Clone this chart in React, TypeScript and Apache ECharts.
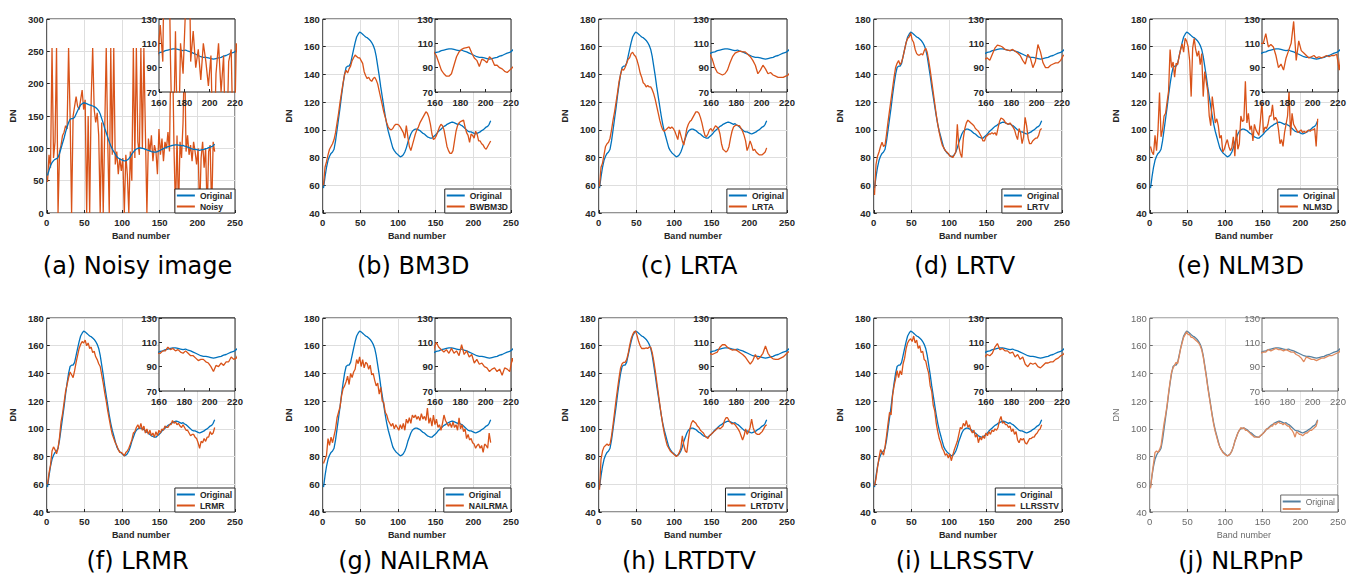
import React, { useEffect, useRef } from 'react';
import * as echarts from 'echarts';

// Band numbers sampled every second band (1, 3, ..., 223)
const bands: number[] = [];
for (let b = 1; b <= 223; b += 2) bands.push(b);

const original = [
  58, 66, 73, 78, 81, 83, 84, 86, 92, 100,
  108, 116, 125, 133, 140, 145, 146, 146, 148, 153,
  158, 163, 167, 169, 170.5, 170, 169, 168, 167, 166.5,
  165.5, 164.5, 163, 161, 158, 153, 146, 139, 131, 124,
  117, 110, 104, 99, 95, 91, 87, 85, 83.5, 82.5,
  81.5, 80.5, 81, 82, 84, 87, 91, 94, 97, 99,
  100, 100.5, 100.5, 100, 99.5, 98.5, 97.5, 97, 96, 95,
  94.5, 94, 94, 95, 96, 97, 98.5, 99.5, 100.5, 101.5,
  102.5, 103, 104, 104.5, 105, 105.5, 105.5, 105, 104.5, 104,
  104.5, 103.5, 103, 102, 101, 100, 99, 98.5, 98.5, 98,
  97.5, 97, 97.5, 98, 98.5, 99.5, 100, 101, 102, 102.5,
  104, 106.5,
];

const noisy = [
  48, 90, 70, 255, 85, 110, 255, 0, 95, 105,
  120, 125, 135, 130, 255, 150, 0, 150, 165, 180,
  165, 160, 175, 190, 160, 175, 0, 150, 0, 175,
  255, 160, 140, 155, 120, 0, 140, 0, 130, 255,
  110, 0, 255, 90, 255, 75, 95, 60, 85, 65,
  85, 0, 90, 60, 0, 95, 50, 255, 85, 255,
  110, 90, 255, 100, 255, 125, 0, 115, 95, 120,
  80, 105, 95, 60, 130, 90, 115, 80, 110, 100,
  125, 95, 255, 255, 100, 0, 120, 0, 110, 85,
  140, 255, 95, 120, 90, 105, 80, 110, 95, 75,
  100, 0, 85, 110, 70, 100, 0, 95, 105, 0,
  110, 95,
];

const bwbm3d = [
  60, 73, 77, 82, 86, 88, 90, 93, 98, 105,
  112, 120, 127, 134, 140, 143, 141, 144, 146, 150,
  152, 154, 153, 152, 152, 150, 148, 142, 139, 137,
  138, 136, 135, 137, 138, 136, 133, 128, 123, 118,
  113, 109, 105, 102, 100.5, 100, 101, 103, 104, 104,
  103.5, 102, 100, 98, 94, 103, 95, 88, 85, 89,
  93, 97, 100, 102, 105, 107, 109, 111, 113, 112,
  109, 104, 97, 93, 94, 96, 99, 102, 104, 103,
  100, 94, 88, 85, 83, 83, 85, 92, 99, 103,
  105, 106, 106.5, 107, 102, 98, 96, 91, 97, 96,
  94, 99, 97, 92, 92, 90, 89, 87, 86, 88,
  90, 92,
];

const lrta = [
  59, 73, 76, 82, 88, 90, 91, 94, 100, 107,
  113, 120, 127, 135, 140, 144, 143, 145, 148, 151,
  152, 155, 156, 154, 153, 150, 146, 141, 138, 134,
  133, 131, 132, 131, 131, 129, 126, 122, 117, 112,
  107, 103, 100, 99, 100, 101, 102, 101, 102, 101,
  99, 96, 93, 100, 96, 92, 89, 95, 101, 104,
  106, 107, 109, 111, 113, 113, 112, 109, 105, 100,
  96, 95, 97, 100, 101, 99, 101, 103, 102, 101,
  97, 90, 86, 85, 84, 85, 88, 94, 99, 102,
  103, 103.5, 103, 103, 101, 99, 96, 92, 85, 88,
  92, 89, 85, 86, 84, 83, 82, 82, 82, 83,
  84, 87,
];

const lrtv = [
  53, 75, 81, 84, 88, 91, 88, 89, 97, 106,
  114, 122, 130, 138, 145, 148, 150, 147, 149, 153,
  158, 163, 166, 167, 170, 165, 163, 158, 155, 154,
  154, 155, 154, 157, 159, 156, 150, 143, 135, 127,
  119, 111, 104, 98, 93, 89, 87, 85, 84, 83,
  81, 81, 80, 82, 84, 104, 88, 83, 80, 94,
  101, 105, 107, 106, 105, 104, 103, 101, 100, 99,
  97, 95, 92, 92, 95, 96, 97, 97, 98, 97,
  98, 96, 101, 106, 108.5, 108, 107, 105, 104.5, 104,
  105, 103.5, 102, 100, 96, 93, 101, 98, 90, 95,
  109, 103, 94, 90, 90, 92, 93, 94, 94, 96,
  100, 101,
];

const nlm3d = [
  88, 84, 82, 96, 85, 100, 127, 95, 100, 110,
  112, 120, 128, 158, 145, 149, 138, 148, 147, 153,
  158, 162, 156, 166, 164, 160, 150, 124, 159, 166,
  158, 153, 157, 147, 155, 124, 142, 135, 128, 110,
  103, 124, 115, 105, 108, 103, 94, 96, 84, 86,
  90, 93, 88, 85, 87, 95, 81, 100, 86, 90,
  110, 106, 107, 135, 105, 112, 100, 103, 92, 104,
  100, 98, 96, 107, 120, 98, 102, 101, 104, 110,
  110, 118, 107, 109, 107, 100, 90, 93, 88, 98,
  104, 110, 128, 96, 112, 104, 102, 100, 98, 99,
  100, 98, 99, 98, 99, 100, 99, 100, 100, 101,
  88, 108,
];

const lrmr = [
  60, 68, 74, 84, 87, 85, 82, 86, 94, 105,
  111, 119, 127, 132, 137, 141, 139, 137, 142, 148,
  153, 158, 161, 163, 162, 164, 160, 162, 158, 159,
  155, 156, 152, 150, 147, 145, 139, 133, 126, 120,
  113, 107, 101, 96, 93, 90, 88, 85, 83, 83,
  82, 80.5, 83, 84, 86, 89, 92, 97, 98, 101,
  103, 100, 104, 99, 102, 97, 100, 96, 99, 95,
  97, 94, 98, 95, 99, 97, 100, 99, 102, 101,
  101, 103, 103, 106, 104, 105, 103, 104, 102, 101,
  103, 101, 99, 99, 97, 95, 96, 96, 94, 93,
  90, 86, 91, 90, 93, 91, 94, 94, 98, 96,
  97, 101,
];

const nailrma = [
  75, 78, 81, 93, 88, 94, 90, 95, 100, 108,
  112, 116, 124, 129, 131, 134, 138, 132, 140, 137,
  141, 143, 150, 147, 152, 145, 150, 144, 148, 147,
  143, 146, 139, 140, 135, 131, 133, 125, 130, 120,
  119, 112, 110, 106, 104, 102, 104, 100, 103, 101,
  99, 103, 100, 104, 99, 107, 104, 108, 104, 110,
  108, 110, 107, 109, 106, 111, 107, 109, 106, 115,
  104, 108, 102, 110, 103, 107, 101, 103, 99, 104,
  110, 106, 104, 102, 104, 101, 105, 101, 103, 99,
  108, 100, 103, 98, 100, 93, 96, 92, 93, 90,
  89, 86, 88, 89, 86, 88, 83, 89, 88, 86,
  97, 90,
];

const lrtdtv = [
  56, 78, 84, 87, 88, 89, 88, 89, 95, 103,
  112, 121, 129, 137, 144, 147, 148, 148, 150, 154,
  160, 165, 168, 170, 170.5, 167, 163, 160, 158, 158,
  158, 158.5, 158, 159, 159, 155, 149, 142, 134, 126,
  118, 110, 103, 97, 92, 88, 86, 84, 83, 82,
  81, 80, 81, 83, 86, 95, 88, 84, 83, 92,
  100, 104, 106, 105, 104, 102, 101, 99, 98, 97,
  95, 94, 93, 95, 96, 97, 98, 99, 100, 101,
  100, 101, 102, 106, 108, 108, 106, 104.5, 103.5, 104,
  103, 101.5, 100, 98, 95, 92, 95, 100, 96, 98,
  101, 107, 101, 98, 96.5, 96, 96, 97, 98, 100,
  102, 103,
];

const llrsstv = [
  59, 64, 72, 79, 85, 83, 81, 87, 95, 104,
  112, 110, 124, 131, 136, 142, 137, 142, 139, 147,
  151, 158, 162, 164, 165, 163, 167, 162, 164, 158,
  160, 155, 156, 150, 149, 144, 140, 131, 127, 117,
  113, 104, 98, 93, 90, 86, 84, 81, 82, 79,
  82, 77, 81, 85, 88, 91, 96, 101, 100, 104,
  102, 106, 101, 103, 99, 97, 99, 94, 96, 90,
  94, 92, 95, 93, 97, 95, 98, 96, 99, 98,
  100, 99, 101, 106, 109, 104, 105, 103, 103, 101,
  102, 98, 100, 96, 98, 92, 90, 93, 92, 93,
  90, 89, 91, 93, 93, 94, 94, 96, 97, 99,
  100, 103,
];

const nlrpnp = [
  57, 67, 75, 83, 84, 83, 85, 88, 96, 104,
  110, 117, 126, 134, 141, 144, 146, 148, 147, 152,
  158, 162, 166, 168, 170, 168, 168, 166, 166, 165,
  164, 163, 162, 160, 157, 152, 145, 138, 130, 123,
  116, 109, 103, 98, 94, 90, 87, 85, 83, 82,
  81, 80.5, 81, 82, 84, 87, 91, 94, 97, 99,
  101, 100, 101, 99, 99, 98, 97, 96, 95, 94,
  94, 94, 94, 95, 96, 97, 98, 100, 100, 101,
  102, 102, 104, 103, 104, 105, 104, 104, 103, 104,
  103, 102, 102, 100, 99, 97, 94, 98, 97, 96,
  96, 95, 96, 97, 97, 98, 99, 99, 100, 101,
  102, 106,
];

const mainXTicks = { min: 0, max: 250, step: 50 };
const insetXTicks = { min: 160, max: 220, step: 20 };
const insetYTicks = { min: 70, max: 130, step: 20 };

type PanelSpec = {
  caption: string;
  method: string;
  values: number[];
  yMin: number;
  yMax: number;
  yStep: number;
  originalOnTop?: boolean;
  soft?: boolean;
  hideMethodLabel?: boolean;
};

const panels: PanelSpec[] = [
  { caption: '(a) Noisy image', method: 'Noisy', values: noisy, yMin: 0, yMax: 300, yStep: 50, originalOnTop: true },
  { caption: '(b) BM3D', method: 'BWBM3D', values: bwbm3d, yMin: 40, yMax: 180, yStep: 20 },
  { caption: '(c) LRTA', method: 'LRTA', values: lrta, yMin: 40, yMax: 180, yStep: 20 },
  { caption: '(d) LRTV', method: 'LRTV', values: lrtv, yMin: 40, yMax: 180, yStep: 20 },
  { caption: '(e) NLM3D', method: 'NLM3D', values: nlm3d, yMin: 40, yMax: 180, yStep: 20 },
  { caption: '(f) LRMR', method: 'LRMR', values: lrmr, yMin: 40, yMax: 180, yStep: 20 },
  { caption: '(g) NAILRMA', method: 'NAILRMA', values: nailrma, yMin: 40, yMax: 180, yStep: 20 },
  { caption: '(h) LRTDTV', method: 'LRTDTV', values: lrtdtv, yMin: 40, yMax: 180, yStep: 20 },
  { caption: '(i) LLRSSTV', method: 'LLRSSTV', values: llrsstv, yMin: 40, yMax: 180, yStep: 20 },
  { caption: '(j) NLRPnP', method: 'NLRPnP', values: nlrpnp, yMin: 40, yMax: 180, yStep: 20, soft: true, hideMethodLabel: true },
];

const PAGE_W = 1347;
const PAGE_H = 577;
const PANEL_W = 276;
const PANEL_H = 250;
const COL_STEP = 275.75;
const ROW_STEP = 299.3;
const MAIN = { left: 40, top: 19, width: 195, height: 194 };
const INSET = { left: 159, top: 19, width: 76, height: 73 };
// caption centre line inside a panel, per row (the lower row sits at the page edge)
const CAPTION_Y = [266, 262];
const FONT = '"Liberation Sans", Arial, Helvetica, sans-serif';

function panelOrigin(i: number) {
  const row = Math.floor(i / 5);
  return { row, left: (i % 5) * COL_STEP, top: row * ROW_STEP };
}

function buildOption(p: PanelSpec): any {
  const soft = !!p.soft;
  const ink = soft ? '#6a6a6a' : '#262626';
  const gridColor = soft ? '#e6e6e6' : '#dedede';
  const blue = soft ? '#56809f' : '#0072BD';
  const orange = soft ? '#e08a5e' : '#D95319';
  const weight = soft ? 'normal' : 'bold';
  const tickText = { color: ink, fontSize: 9.5, fontWeight: weight, fontFamily: FONT };
  const nameText = { color: ink, fontSize: 9, fontWeight: weight, fontFamily: FONT };

  const origPts = bands.map((b, i) => [b, original[i]]);
  const methPts = bands.map((b, i) => [b, p.values[i]]);

  const line = (name: string, data: number[][], color: string, axis: number, z: number) => ({
    type: 'line',
    name,
    data,
    xAxisIndex: axis,
    yAxisIndex: axis,
    symbol: 'none',
    showSymbol: false,
    clip: true,
    z,
    lineStyle: { color, width: 1.3 },
    itemStyle: { color },
    emphasis: { disabled: true },
  });

  const tick = { show: true, inside: true, length: 3, lineStyle: { color: ink, width: 1 } };

  const origZMain = p.originalOnTop ? 3 : 2;
  const methZMain = p.originalOnTop ? 2 : 3;

  return {
    animation: false,
    grid: [
      { ...MAIN, show: true, borderColor: ink, borderWidth: 1, backgroundColor: 'transparent' },
      { ...INSET, show: true, borderColor: ink, borderWidth: 1, backgroundColor: '#ffffff', z: 5 },
    ],
    xAxis: [
      {
        gridIndex: 0, type: 'value', min: mainXTicks.min, max: mainXTicks.max, interval: mainXTicks.step,
        name: 'Band number', nameLocation: 'middle', nameGap: 18, nameTextStyle: nameText,
        axisLine: { show: false }, axisTick: tick,
        axisLabel: { ...tickText, margin: 4 },
        splitLine: { show: true, lineStyle: { color: gridColor, width: 1 } },
      },
      {
        gridIndex: 1, type: 'value', min: insetXTicks.min, max: insetXTicks.max, interval: insetXTicks.step, z: 6,
        axisLine: { show: false }, axisTick: tick,
        axisLabel: { ...tickText, margin: 5 },
        splitLine: { show: false },
      },
    ],
    yAxis: [
      {
        gridIndex: 0, type: 'value', min: p.yMin, max: p.yMax, interval: p.yStep,
        name: 'DN', nameLocation: 'middle', nameGap: 21, nameTextStyle: nameText,
        axisLine: { show: false }, axisTick: tick,
        axisLabel: { ...tickText, margin: 3 },
        splitLine: { show: true, lineStyle: { color: gridColor, width: 1 } },
      },
      {
        gridIndex: 1, type: 'value', min: insetYTicks.min, max: insetYTicks.max, interval: insetYTicks.step, z: 6,
        axisLine: { show: false }, axisTick: tick,
        axisLabel: { ...tickText, margin: 2 },
        splitLine: { show: false },
      },
    ],
    legend: {
      orient: 'vertical',
      right: PANEL_W - (MAIN.left + MAIN.width),
      bottom: PANEL_H - (MAIN.top + MAIN.height),
      data: ['Original', p.method],
      icon: 'rect',
      itemWidth: 18,
      itemHeight: 2,
      itemGap: 2,
      itemTextGap: 2,
      padding: [2, 3, 2, 2],
      borderColor: ink,
      borderWidth: 1,
      borderRadius: 0,
      backgroundColor: '#ffffff',
      selectedMode: false,
      z: 10,
      textStyle: { color: ink, fontSize: 8.5, fontWeight: weight, fontFamily: FONT },
      formatter: (n: string) => (p.hideMethodLabel && n === p.method ? '' : n),
    },
    series: [
      line('Original', origPts, blue, 0, origZMain),
      line(p.method, methPts, orange, 0, methZMain),
      line('Original', origPts, blue, 1, 7),
      line(p.method, methPts, orange, 1, 8),
    ],
  };
}

// Sub-figure captions, drawn sharp on a page-wide layer above the plots
function captionOption(): any {
  return {
    animation: false,
    graphic: panels.map((p, i) => {
      const o = panelOrigin(i);
      return {
        type: 'text',
        x: o.left + MAIN.left + MAIN.width / 2,
        y: o.top + CAPTION_Y[o.row],
        silent: true,
        style: {
          text: p.caption,
          fill: '#000000',
          fontSize: 24,
          fontFamily: '"DejaVu Sans", sans-serif',
          align: 'center',
          verticalAlign: 'middle',
        },
      };
    }),
  };
}

function Panel({ spec, left, top }: { spec: PanelSpec; left: number; top: number }) {
  const ref = useRef<HTMLDivElement>(null);
  useEffect(() => {
    if (!ref.current) return;
    const chart = echarts.init(ref.current, null, { renderer: 'svg' });
    chart.setOption(buildOption(spec));
    return () => chart.dispose();
  }, [spec]);
  return (
    <div
      ref={ref}
      style={{
        position: 'absolute',
        left,
        top,
        width: PANEL_W,
        height: PANEL_H,
        filter: spec.soft ? 'blur(0.45px)' : undefined,
      }}
    />
  );
}

function Captions() {
  const ref = useRef<HTMLDivElement>(null);
  useEffect(() => {
    if (!ref.current) return;
    const chart = echarts.init(ref.current, null, { renderer: 'svg' });
    chart.setOption(captionOption());
    return () => chart.dispose();
  }, []);
  return (
    <div
      ref={ref}
      style={{ position: 'absolute', left: 0, top: 0, width: PAGE_W, height: PAGE_H, pointerEvents: 'none' }}
    />
  );
}

export default function App() {
  return (
    <div
      style={{
        position: 'absolute',
        left: 0,
        top: 0,
        width: PAGE_W,
        height: PAGE_H,
        overflow: 'hidden',
        background: '#ffffff',
      }}
    >
      {panels.map((spec, i) => {
        const o = panelOrigin(i);
        return <Panel key={spec.caption} spec={spec} left={o.left} top={o.top} />;
      })}
      <Captions />
    </div>
  );
}
